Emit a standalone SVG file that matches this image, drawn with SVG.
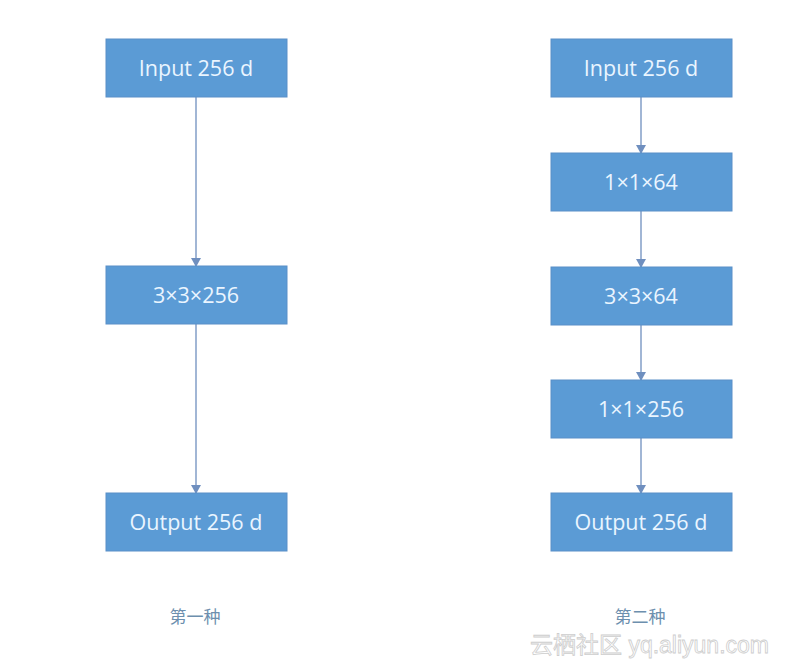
<svg xmlns="http://www.w3.org/2000/svg" width="806" height="659" viewBox="0 0 806 659">
<style>
.box{fill:#5b9bd5;stroke:#5a8fc8;stroke-width:1}
.lbl{font-family:"Open Sans","Liberation Sans",sans-serif;font-size:21.5px;fill:#eaf5ff;text-anchor:middle}
.cap{font-family:"Noto Sans CJK SC",sans-serif;font-size:17px;fill:#6d8fae;text-anchor:middle}
.conn{stroke:#6f8fbf;stroke-width:1.3;fill:none}
.wm{font-family:"Liberation Sans","Noto Sans CJK SC",sans-serif;font-size:23px;fill:#ffffff;stroke:#c8c8c8;stroke-width:0.8;opacity:0.9}
</style>
<defs>
<marker id="ah" markerWidth="10" markerHeight="10" refX="8" refY="5" orient="auto" markerUnits="userSpaceOnUse">
<path d="M0,0 L9,5 L0,10 z" fill="#6f8fbf"/>
</marker>
</defs>
<rect width="806" height="659" fill="#ffffff"/>
<g id="connectors">
<line class="conn" x1="196" y1="97" x2="196" y2="266" marker-end="url(#ah)"/>
<line class="conn" x1="196" y1="324" x2="196" y2="493" marker-end="url(#ah)"/>
<line class="conn" x1="641" y1="97" x2="641" y2="153" marker-end="url(#ah)"/>
<line class="conn" x1="641" y1="211" x2="641" y2="267" marker-end="url(#ah)"/>
<line class="conn" x1="641" y1="325" x2="641" y2="380" marker-end="url(#ah)"/>
<line class="conn" x1="641" y1="438" x2="641" y2="493" marker-end="url(#ah)"/>
</g>
<g id="l_input"><rect class="box" x="106" y="39" width="181" height="58"/><text class="lbl" x="196" y="76">Input 256 d</text></g>
<g id="l_conv"><rect class="box" x="106" y="266" width="181" height="58"/><text class="lbl" x="196" y="303">3×3×256</text></g>
<g id="l_output"><rect class="box" x="106" y="493" width="181" height="58"/><text class="lbl" x="196" y="530">Output 256 d</text></g>
<g id="r_input"><rect class="box" x="551" y="39" width="181" height="58"/><text class="lbl" x="641" y="76">Input 256 d</text></g>
<g id="r_c1"><rect class="box" x="551" y="153" width="181" height="58"/><text class="lbl" x="641" y="190">1×1×64</text></g>
<g id="r_c2"><rect class="box" x="551" y="267" width="181" height="58"/><text class="lbl" x="641" y="304">3×3×64</text></g>
<g id="r_c3"><rect class="box" x="551" y="380" width="181" height="58"/><text class="lbl" x="641" y="417">1×1×256</text></g>
<g id="r_output"><rect class="box" x="551" y="493" width="181" height="58"/><text class="lbl" x="641" y="530">Output 256 d</text></g>
<text class="cap" x="195" y="623">第一种</text>
<text class="cap" x="640" y="623">第二种</text>
<text class="wm" x="530" y="653">云栖社区 yq.aliyun.com</text>
</svg>
